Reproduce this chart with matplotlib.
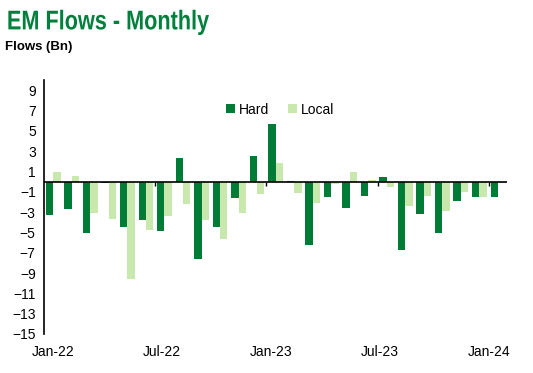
import numpy as np
import matplotlib
matplotlib.use("Agg")
import matplotlib.pyplot as plt
from matplotlib import patheffects
from matplotlib.transforms import Affine2D

# Monthly EM flows, Jan-22 .. Jan-24 (Bn)
months = ["Jan-22", "Feb-22", "Mar-22", "Apr-22", "May-22", "Jun-22", "Jul-22",
          "Aug-22", "Sep-22", "Oct-22", "Nov-22", "Dec-22", "Jan-23", "Feb-23",
          "Mar-23", "Apr-23", "May-23", "Jun-23", "Jul-23", "Aug-23", "Sep-23",
          "Oct-23", "Nov-23", "Dec-23", "Jan-24"]
hard = [-3.3, -2.7, -5.1, -0.1, -4.5, -3.8, -4.9, 2.3, -7.6, -4.5, -1.6, 2.5, 5.65,
        0.1, -6.25, -1.5, -2.6, -1.4, 0.45, -6.7, -3.2, -5.1, -1.9, -1.5, -1.5]
local = [0.95, 0.55, -3.1, -3.7, -9.6, -4.8, -3.4, -2.2, -3.8, -5.7, -3.1, -1.2, 1.8,
         -1.1, -2.1, -0.2, 0.95, 0.15, -0.5, -2.4, -1.4, -2.9, -1.0, -1.5, -0.1]
tick_labels = ["Jan-22", "Jul-22", "Jan-23", "Jul-23", "Jan-24"]

dark = "#007C36"
light = "#C9E8AD"


class Narrow(patheffects.AbstractPathEffect):
    # squeeze text horizontally (no narrow font installed)
    def __init__(self, sx):
        super().__init__()
        self.sx = sx

    def draw_path(self, renderer, gc, tpath, affine, rgbFace=None):
        renderer.draw_path(gc, tpath, Affine2D().scale(self.sx, 1) + affine, rgbFace)


plt.rcParams["font.family"] = ["Liberation Sans", "DejaVu Sans"]

fig = plt.figure(figsize=(5.33, 3.73), dpi=100)
ax = fig.add_axes([0.0826, 0.1046, 0.869, 0.681])

x = np.arange(len(months))
w = 0.4
ax.bar(x - w / 2, hard, w, color=dark, label="Hard")
ax.bar(x + w / 2, local, w, color=light, label="Local")

ax.set_xlim(-0.5, len(months) - 0.5)
ax.set_ylim(-15, 10)
ax.set_yticks(np.arange(-15, 10, 2))
ax.tick_params(axis="y", length=0, labelsize=10, pad=6)

# zero line with small ticks at half-year boundaries
ax.axhline(0, color="black", lw=1.2, zorder=3)
bounds = np.arange(6, len(months), 6) - 0.5
ax.vlines(bounds, -0.4, 0, color="black", lw=1, zorder=3)

ax.set_xticks(np.linspace(0, len(months) - 1.5, len(tick_labels)))
ax.set_xticklabels(tick_labels)
ax.tick_params(axis="x", length=0, labelsize=10, pad=8)

for s in ["top", "right", "bottom"]:
    ax.spines[s].set_visible(False)
ax.spines["left"].set_linewidth(1.2)

ax.legend(loc="upper center", bbox_to_anchor=(0.51, 0.96), ncol=2, frameon=False,
          fontsize=10, handlelength=0.6, handleheight=0.6, handletextpad=0.3,
          columnspacing=1.4)

fig.text(0.013, 0.94, "EM Flows - Monthly", fontsize=19.5, fontweight="bold",
         color="#00803C", va="center", path_effects=[Narrow(0.8)])
fig.text(0.01, 0.875, "Flows (Bn)", fontsize=9.5, fontweight="bold",
         color="black", va="center")

fig.savefig("out.png", dpi=100)
